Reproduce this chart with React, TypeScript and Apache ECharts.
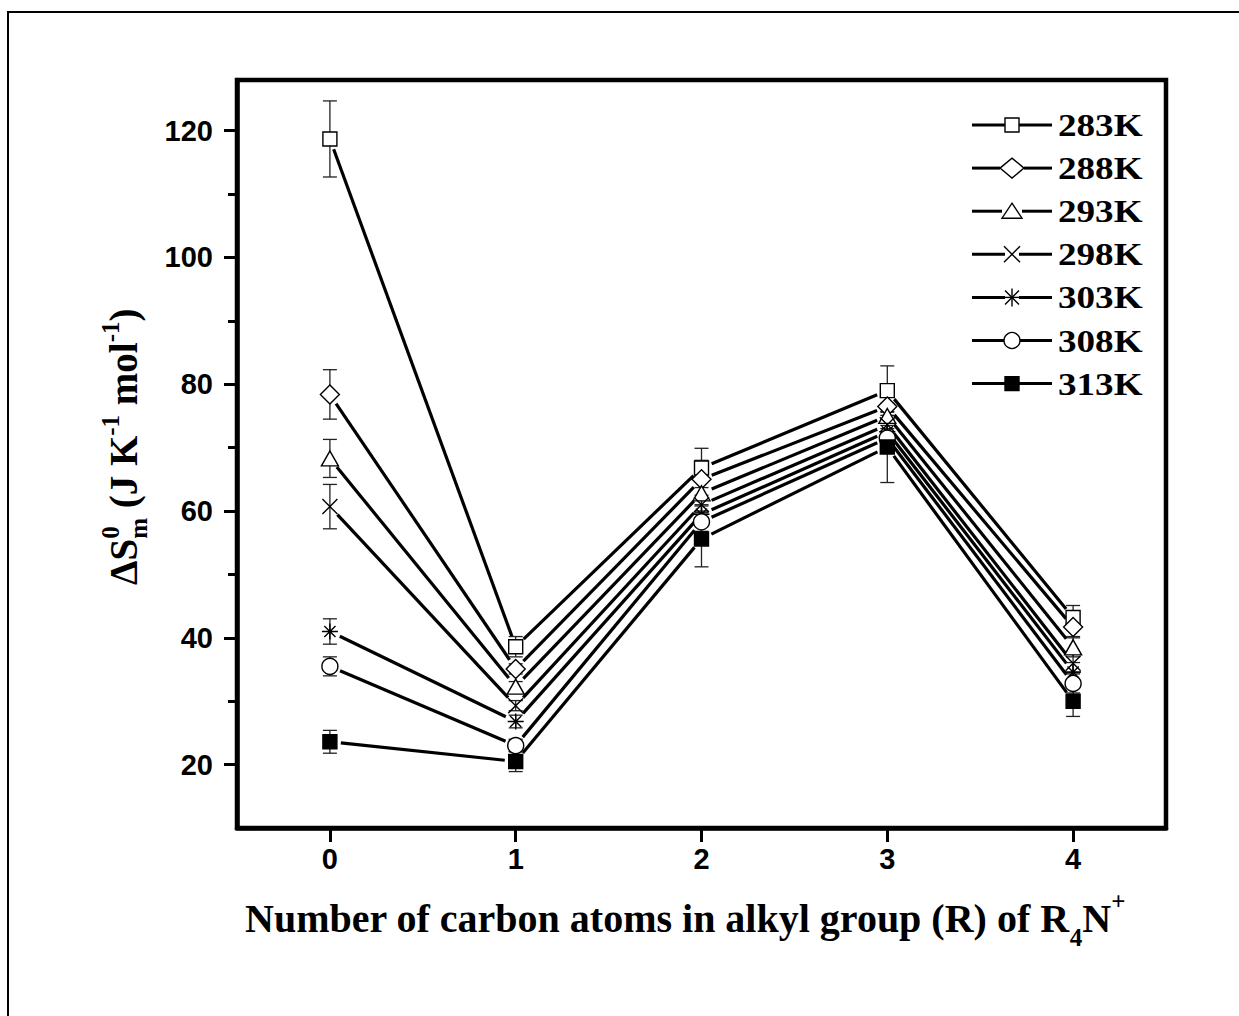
import React, { useEffect, useRef } from 'react';
import * as echarts from 'echarts';

// ---------- data ----------
const xValues = [0, 1, 2, 3, 4];
const temps = ['283K', '288K', '293K', '298K', '303K', '308K', '313K'];
const s283 = [118.7, 38.6, 66.8, 79.0, 43.2];
const s288 = [78.4, 35.1, 65.0, 76.5, 41.7];
const s293 = [68.3, 32.3, 62.8, 75.0, 38.5];
const s298 = [60.7, 29.3, 61.0, 73.6, 36.0];
const s303 = [41.0, 26.8, 59.5, 72.5, 34.6];
const s308 = [35.5, 23.0, 58.3, 71.5, 32.8];
const s313 = [23.6, 20.5, 55.6, 70.1, 30.0];
const e283 = [6.0, 1.6, 3.1, 3.9, 1.9];
const e288 = [3.9, 0.8, 3.0, 2.0, 1.5];
const e293 = [3.0, 0.8, 2.0, 2.0, 1.5];
const e298 = [3.5, 0.8, 1.5, 2.0, 1.5];
const e303 = [2.0, 1.0, 1.5, 2.0, 1.5];
const e308 = [1.5, 1.0, 1.5, 2.0, 1.5];
const e313 = [1.8, 1.6, 4.4, 5.6, 2.4];
const xTickValues = [0, 1, 2, 3, 4];
const yTickValues = [20, 40, 60, 80, 100, 120];
const yMinorTickValues = [30, 50, 70, 90, 110];

const seriesValues = [s283, s288, s293, s298, s303, s308, s313];
const seriesErrors = [e283, e288, e293, e298, e303, e308, e313];

// ---------- styles ----------
type Mk = 'square' | 'diamond' | 'triangle' | 'cross' | 'star' | 'circle' | 'fsquare';
const markers: Mk[] = ['square', 'diamond', 'triangle', 'cross', 'star', 'circle', 'fsquare'];
const CROSS_PATH = 'path://M0,0L10,10M10,0L0,10';
const STAR_PATH = 'path://M5,0L5,10M0,5L10,5M1.5,1.5L8.5,8.5M8.5,1.5L1.5,8.5';
const symbolOf: Record<Mk, any> = {
  square: { symbol: 'rect', size: 14, fill: '#fff' },
  diamond: { symbol: 'diamond', size: 19, fill: '#fff' },
  triangle: { symbol: 'triangle', size: [17, 15], fill: '#fff' },
  cross: { symbol: CROSS_PATH, size: 15, fill: 'none' },
  star: { symbol: STAR_PATH, size: 16, fill: 'none' },
  circle: { symbol: 'circle', size: 16, fill: '#fff' },
  fsquare: { symbol: 'rect', size: 14, fill: '#000' },
};

const SERIF = '"Liberation Serif", "Times New Roman", serif';
const SANS = '"Liberation Sans", Arial, sans-serif';

let measureCtx: CanvasRenderingContext2D | null = null;
function tw(text: string, font: string) {
  if (!measureCtx) measureCtx = document.createElement('canvas').getContext('2d');
  measureCtx!.font = font;
  return measureCtx!.measureText(text).width;
}

type Seg = { t: string; size: number; dy: number; stack?: boolean };
function layoutSegs(segs: Seg[]) {
  let x = 0;
  let prevStart = 0;
  const children: any[] = [];
  for (const s of segs) {
    const font = `bold ${s.size}px ${SERIF}`;
    const w = tw(s.t, font);
    const sx = s.stack ? prevStart : x;
    children.push({
      type: 'text',
      x: sx,
      y: s.dy - 0.34 * s.size,
      style: {
        text: s.t,
        fill: '#000',
        fontFamily: SERIF,
        fontWeight: 'bold',
        fontSize: s.size,
        align: 'left',
        verticalAlign: 'middle',
      },
    });
    if (s.stack) {
      x = Math.max(x, sx + w);
    } else {
      prevStart = sx;
      x = sx + w;
    }
  }
  return children;
}

function legendSymbol(m: Mk, cx: number, cy: number): any[] {
  const st = { fill: '#fff', stroke: '#000', lineWidth: 1.4 };
  const ls = { stroke: '#000', lineWidth: 1.4 };
  switch (m) {
    case 'square':
      return [{ type: 'rect', shape: { x: cx - 7, y: cy - 7, width: 14, height: 14 }, style: st }];
    case 'fsquare':
      return [{ type: 'rect', shape: { x: cx - 7, y: cy - 7, width: 14, height: 14 }, style: { ...st, fill: '#000' } }];
    case 'diamond':
      return [{ type: 'polygon', shape: { points: [[cx, cy - 10], [cx + 12, cy], [cx, cy + 10], [cx - 12, cy]] }, style: st }];
    case 'triangle':
      return [{ type: 'polygon', shape: { points: [[cx, cy - 8], [cx + 10, cy + 7], [cx - 10, cy + 7]] }, style: st }];
    case 'circle':
      return [{ type: 'circle', shape: { cx, cy, r: 8 }, style: st }];
    case 'cross':
      return [
        { type: 'line', shape: { x1: cx - 8, y1: cy - 8, x2: cx + 8, y2: cy + 8 }, style: ls },
        { type: 'line', shape: { x1: cx + 8, y1: cy - 8, x2: cx - 8, y2: cy + 8 }, style: ls },
      ];
    case 'star':
      return [
        { type: 'line', shape: { x1: cx, y1: cy - 9, x2: cx, y2: cy + 9 }, style: ls },
        { type: 'line', shape: { x1: cx - 7, y1: cy - 7, x2: cx + 7, y2: cy + 7 }, style: ls },
        { type: 'line', shape: { x1: cx + 7, y1: cy - 7, x2: cx - 7, y2: cy + 7 }, style: ls },
      ];
  }
  return [];
}

const GAP = 11;

export default function App() {
  const ref = useRef<HTMLDivElement>(null);
  useEffect(() => {
    document.body.style.margin = '0';
    const chart = echarts.init(ref.current!, null, { renderer: 'svg' });

    const segData: number[][] = [];
    seriesValues.forEach((vals) => {
      for (let i = 0; i < xValues.length - 1; i++) {
        segData.push([xValues[i], vals[i], xValues[i + 1], vals[i + 1]]);
      }
    });
    const errData: number[][] = [];
    seriesValues.forEach((vals, si) => {
      vals.forEach((v, i) => errData.push([xValues[i], v, seriesErrors[si][i]]));
    });

    const series: any[] = [
      {
        type: 'custom',
        name: 'lines',
        z: 2,
        encode: { x: [0, 2], y: [1, 3] },
        data: segData,
        renderItem: (_p: any, api: any) => {
          const p1 = api.coord([api.value(0), api.value(1)]);
          const p2 = api.coord([api.value(2), api.value(3)]);
          const dx = p2[0] - p1[0];
          const dy = p2[1] - p1[1];
          const len = Math.hypot(dx, dy);
          const ux = dx / len;
          const uy = dy / len;
          return {
            type: 'line',
            shape: { x1: p1[0] + ux * GAP, y1: p1[1] + uy * GAP, x2: p2[0] - ux * GAP, y2: p2[1] - uy * GAP },
            style: { stroke: '#000', lineWidth: 3.2 },
          };
        },
      },
      {
        type: 'custom',
        name: 'errors',
        z: 3,
        encode: { x: 0, y: 1 },
        data: errData,
        renderItem: (_p: any, api: any) => {
          const x = api.value(0);
          const y = api.value(1);
          const e = api.value(2);
          const t = api.coord([x, y + e]);
          const b = api.coord([x, y - e]);
          const hw = 7;
          const st = { stroke: '#222', lineWidth: 1.3 };
          return {
            type: 'group',
            children: [
              { type: 'line', shape: { x1: t[0], y1: t[1], x2: b[0], y2: b[1] }, style: st },
              { type: 'line', shape: { x1: t[0] - hw, y1: t[1], x2: t[0] + hw, y2: t[1] }, style: st },
              { type: 'line', shape: { x1: b[0] - hw, y1: b[1], x2: b[0] + hw, y2: b[1] }, style: st },
            ],
          };
        },
      },
    ];
    seriesValues.forEach((vals, si) => {
      const sp = symbolOf[markers[si]];
      series.push({
        type: 'scatter',
        name: temps[si],
        z: 4,
        symbol: sp.symbol,
        symbolSize: sp.size,
        itemStyle: { color: sp.fill === 'none' ? 'rgba(0,0,0,0)' : sp.fill, borderColor: '#000', borderWidth: 1.4, opacity: 1 },
        emphasis: { disabled: true },
        data: vals.map((v, i) => [xValues[i], v]),
      });
    });

    // legend graphics
    const legendEls: any[] = [];
    temps.forEach((t, i) => {
      const cy = 125 + 43.1 * i;
      const cx = 1012;
      const half = markers[i] === 'diamond' ? 12 : markers[i] === 'triangle' ? 10 : 7;
      legendEls.push({ type: 'line', shape: { x1: 972, y1: cy, x2: cx - half, y2: cy }, style: { stroke: '#000', lineWidth: 3 } });
      legendEls.push({ type: 'line', shape: { x1: cx + half, y1: cy, x2: 1052, y2: cy }, style: { stroke: '#000', lineWidth: 3 } });
      if (markers[i] === 'star') {
        legendEls.push({ type: 'line', shape: { x1: cx - half, y1: cy, x2: cx + half, y2: cy }, style: { stroke: '#000', lineWidth: 1.4 } });
      }
      legendEls.push(...legendSymbol(markers[i], cx, cy));
      legendEls.push({
        type: 'text',
        x: 1058,
        y: cy,
        scaleX: 1.16,
        style: { text: t, fill: '#000', fontFamily: SERIF, fontWeight: 'bold', fontSize: 32, align: 'left', verticalAlign: 'middle' },
      });
    });

    const yTitle = layoutSegs([
      { t: 'ΔS', size: 39, dy: 0 },
      { t: 'm', size: 25, dy: 10 },
      { t: '0', size: 25, dy: -18, stack: true },
      { t: ' (J K', size: 39, dy: 0 },
      { t: '-1', size: 25, dy: -18 },
      { t: ' mol', size: 39, dy: 0 },
      { t: '-1', size: 25, dy: -18 },
      { t: ')', size: 39, dy: 0 },
    ]);
    const xTitle = layoutSegs([
      { t: 'Number of carbon atoms in alkyl group (R) of R', size: 40, dy: 0 },
      { t: '4', size: 25, dy: 14 },
      { t: 'N', size: 40, dy: 0 },
      { t: '+', size: 25, dy: -22 },
    ]);

    chart.setOption({
      animation: false,
      backgroundColor: '#fff',
      grid: { left: 237, top: 80, width: 929, height: 748, show: true, borderColor: '#000', borderWidth: 4.5, backgroundColor: 'transparent' },
      xAxis: [
        {
          type: 'value',
          min: -0.5,
          max: 4.5,
          axisLine: { show: true, onZero: false, lineStyle: { color: '#000', width: 4.5 } },
          axisTick: { show: true, customValues: xTickValues, length: 14, lineStyle: { color: '#000', width: 3 } },
          axisLabel: { customValues: xTickValues, margin: 16, color: '#000', fontFamily: SANS, fontWeight: 'bold', fontSize: 29 },
          splitLine: { show: false },
        },
      ],
      yAxis: [
        {
          type: 'value',
          min: 10,
          max: 128,
          position: 'left',
          axisLine: { show: true, onZero: false, lineStyle: { color: '#000', width: 4.5 } },
          axisTick: { show: true, customValues: yTickValues, length: 13, lineStyle: { color: '#000', width: 3 } },
          axisLabel: { customValues: yTickValues, margin: 24, color: '#000', fontFamily: SANS, fontWeight: 'bold', fontSize: 29 },
          splitLine: { show: false },
        },
        {
          type: 'value',
          min: 10,
          max: 128,
          position: 'left',
          offset: 0,
          axisLine: { show: false, onZero: false },
          axisTick: { show: true, customValues: yMinorTickValues, length: 9, lineStyle: { color: '#000', width: 3 } },
          axisLabel: { show: false },
          splitLine: { show: false },
        },
      ],
      series,
      graphic: [
        { type: 'rect', shape: { x: 8, y: 12, width: 1400, height: 1200 }, style: { fill: 'none', stroke: '#000', lineWidth: 2 }, silent: true },
        { type: 'group', x: 137, y: 585, rotation: Math.PI / 2, children: yTitle },
        { type: 'group', x: 245, y: 932, children: xTitle },
        { type: 'group', children: legendEls },
      ],
    });
    return () => chart.dispose();
  }, []);
  return <div ref={ref} style={{ width: 1239, height: 1016 }} />;
}
